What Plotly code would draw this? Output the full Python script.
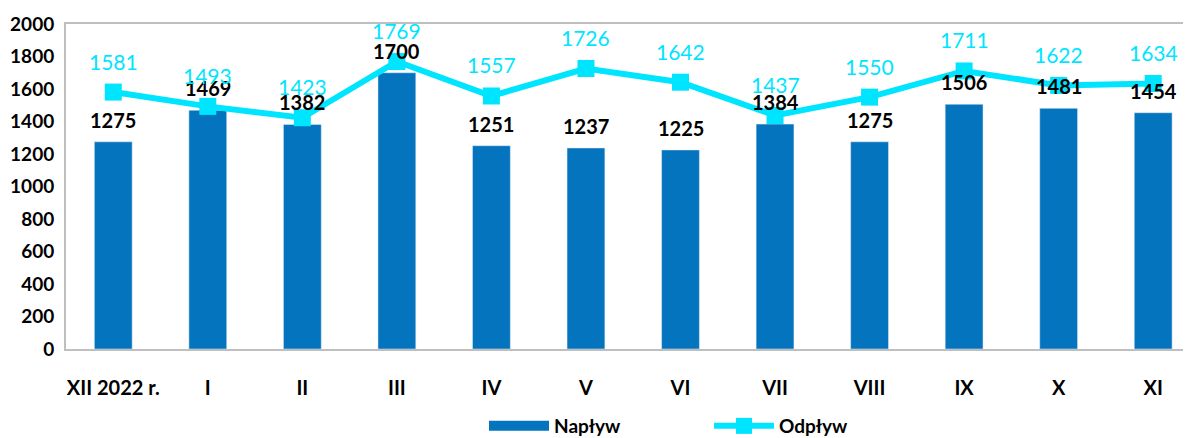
import plotly.graph_objects as go

categories = ["XII 2022 r.", "I", "II", "III", "IV", "V", "VI", "VII", "VIII", "IX", "X", "XI"]
naplyw = [1275, 1469, 1382, 1700, 1251, 1237, 1225, 1384, 1275, 1506, 1481, 1454]
odplyw = [1581, 1493, 1423, 1769, 1557, 1726, 1642, 1437, 1550, 1711, 1622, 1634]
y_ticks = [0, 200, 400, 600, 800, 1000, 1200, 1400, 1600, 1800, 2000]

FONT = "Lato, 'Open Sans', sans-serif"
BAR_C = "#0474BE"
LINE_C = "#00E5FF"

W, H = 1183, 430  # page body has an 8px default margin

x = list(range(len(categories)))
fig = go.Figure()
fig.add_trace(go.Bar(x=x, y=naplyw, name="Napływ", marker_color=BAR_C, width=0.40,
                     showlegend=False))
# legend-only entry with a wide swatch for the bars
fig.add_trace(go.Scatter(x=[None], y=[None], name="<b>Napływ</b>", mode="lines",
                         line=dict(color=BAR_C, width=16)))
fig.add_trace(go.Scatter(x=x, y=odplyw, name="<b>Odpływ</b>", mode="lines+markers",
                         line=dict(color=LINE_C, width=6),
                         marker=dict(symbol="square", size=17, color=LINE_C)))

ann = []
for i, v in enumerate(naplyw):
    ann.append(dict(x=i, y=v, text=f"<b>{v}</b>", showarrow=False, yshift=22,
                    font=dict(family=FONT, size=20, color="#000000")))
for i, v in enumerate(odplyw):
    ann.append(dict(x=i, y=v, text=f"{v}", showarrow=False, yshift=31,
                    font=dict(family=FONT, size=21, color=LINE_C)))

fig.update_layout(
    width=W, height=H,
    margin=dict(l=58, r=0, t=16, b=89, autoexpand=False),
    paper_bgcolor="white", plot_bgcolor="white",
    font=dict(family=FONT, size=16, color="#000000"),
    annotations=ann,
    showlegend=True,
    legend=dict(orientation="h", xref="container", yref="container",
                x=476 / W, xanchor="left", y=(H - 418) / H, yanchor="middle",
                font=dict(family=FONT, size=19, color="#000000"),
                entrywidth=150, entrywidthmode="pixels", itemwidth=60,
                tracegroupgap=0, bgcolor="rgba(0,0,0,0)"),
    xaxis=dict(tickmode="array", tickvals=x, ticktext=[f"<b>{c}</b>" for c in categories],
               range=[-0.5, 11.4], showline=True, linecolor="#BFBFBF", linewidth=2,
               mirror=True, ticks="", ticklabelstandoff=20, showgrid=False,
               tickfont=dict(family=FONT, size=20, color="#000000")),
    yaxis=dict(range=[0, 2000], tickmode="array", tickvals=y_ticks,
               ticktext=[f"<b>{t}</b>" for t in y_ticks],
               showline=True, linecolor="#BFBFBF", linewidth=2, mirror=True,
               showgrid=False, ticks="", zeroline=False, ticklabelstandoff=6,
               tickfont=dict(family=FONT, size=19, color="#000000")),
)

fig.write_html("out.html")
